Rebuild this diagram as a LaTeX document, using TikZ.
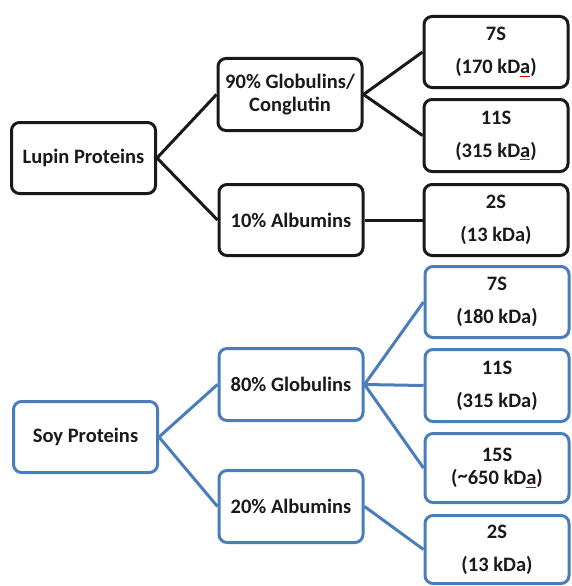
\documentclass[tikz,border=0pt]{standalone}
\usepackage{fontspec}
\setmainfont{Carlito}
\usetikzlibrary{positioning}
\definecolor{soyblue}{HTML}{4A7EBB}
\definecolor{txt}{HTML}{1A1A1A}
\newcommand\spl[1]{\leavevmode\setbox0\hbox{#1}\rlap{\textcolor{red!85!black}{\rule[-3pt]{\wd0}{0.9pt}}}#1}
\tikzset{
  box/.style={draw, rectangle, rounded corners=8pt, line width=3pt, fill=white,
    minimum width=144pt, minimum height=71pt, inner sep=0pt, align=center,
    text=txt, font=\fontsize{20.5}{23}\selectfont\bfseries},
  lupin/.style={box, draw=black!90},
  soy/.style={box, draw=soyblue},
  lline/.style={line width=3pt, draw=black!90},
  sline/.style={line width=3pt, draw=soyblue},
}
\begin{document}
\begin{tikzpicture}[x=1pt,y=-1pt]
\useasboundingbox (0,0) rectangle (571,586);
% Lupin
\node[lupin] (lp) at (83.5,158) {Lupin Proteins};
\node[lupin, minimum height=72pt] (lg) at (290,94.5) {90\% Globulins/\\Conglutin};
\node[lupin] (la) at (291,220) {10\% Albumins};
\node[lupin] (l7) at (496,52) {7S\\[10pt](170 kD\spl{a})};
\node[lupin, minimum height=72pt] (l11) at (496,135.5) {11S\\[10pt](315 kD\spl{a})};
\node[lupin] (l2) at (496,220) {2S\\[10pt](13 kDa)};
\draw[lline] (lp.east) -- (lg.west);
\draw[lline] (lp.east) -- (la.west);
\draw[lline] (lg.east) -- (l7.west);
\draw[lline] (lg.east) -- (l11.west);
\draw[lline] (la.east) -- (l2.west);
% Soy
\node[soy] (sp) at (85.5,437) {Soy Proteins};
\node[soy, minimum height=72pt] (sg) at (291,384.5) {80\% Globulins};
\node[soy, minimum height=72pt] (sa) at (291,506.5) {20\% Albumins};
\node[soy] (s7) at (497,302) {7S\\[10pt](180 kDa)};
\node[soy, minimum height=72pt] (s11) at (497,385.5) {11S\\[10pt](315 kDa)};
\node[soy, minimum height=69pt] (s15) at (497,468) {15S\\(\raisebox{0.25ex}{\char`\~}650 kD\spl{a})};
\node[soy, minimum height=68pt] (s2) at (497,549.5) {2S\\[10pt](13 kDa)};
\draw[sline] (sp.east) -- (sg.west);
\draw[sline] (sp.east) -- (sa.west);
\draw[sline] (sg.east) -- (s7.west);
\draw[sline] (sg.east) -- (s11.west);
\draw[sline] (sg.east) -- (s15.west);
\draw[sline] (sa.east) -- (s2.west);
\end{tikzpicture}
\end{document}
